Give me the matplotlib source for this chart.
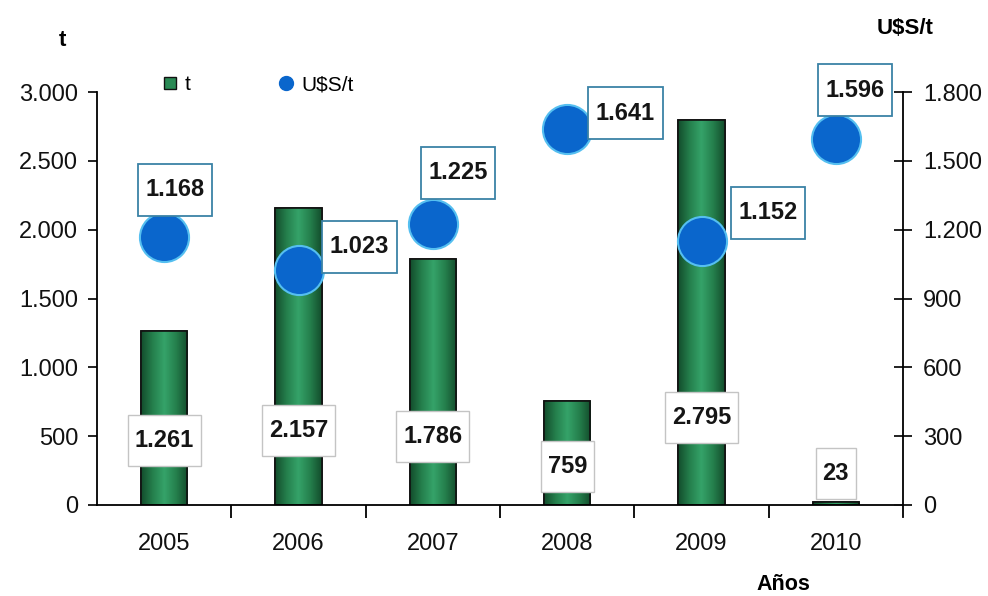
import matplotlib
matplotlib.use("Agg")
import matplotlib.pyplot as plt
import numpy as np
from matplotlib.patches import Rectangle
from matplotlib.path import Path
from matplotlib.colors import LinearSegmentedColormap
from matplotlib.lines import Line2D

plt.rcParams['font.family'] = ['Liberation Sans', 'DejaVu Sans']

years = ["2005", "2006", "2007", "2008", "2009", "2010"]
tonnes = [1261, 2157, 1786, 759, 2795, 23]
price = [1168, 1023, 1225, 1641, 1152, 1596]
tonnes_labels = ["1.261", "2.157", "1.786", "759", "2.795", "23"]
price_labels = ["1.168", "1.023", "1.225", "1.641", "1.152", "1.596"]
left_ticks = [0, 500, 1000, 1500, 2000, 2500, 3000]
left_tick_labels = ["0", "500", "1.000", "1.500", "2.000", "2.500", "3.000"]
right_ticks = [0, 300, 600, 900, 1200, 1500, 1800]
right_tick_labels = ["0", "300", "600", "900", "1.200", "1.500", "1.800"]

# label placement
price_offsets = [(8, 34), (44, 17), (18, 37), (42, 11), (48, 20), (14, 35)]
bar_label_y = [472, 538, 501, 283, 639, 232]


def make_box(padx, total_h):
    def style(x0, y0, width, height, mutation_size):
        cy = y0 + height / 2
        l, r = x0 - padx, x0 + width + padx
        b, t = cy - total_h / 2, cy + total_h / 2
        return Path([(l, b), (r, b), (r, t), (l, t), (l, b)], closed=True)
    return style


fig = plt.figure(figsize=(9.88, 5.96), dpi=100)
ax = fig.add_axes([0.0982, 0.1527, 0.8158, 0.6929])
ax2 = ax.twinx()

x = np.arange(len(years))
width = 0.343
cmap = LinearSegmentedColormap.from_list("g", ["#134d2c", "#25804d", "#35a369", "#25804d", "#134d2c"])
grad = np.linspace(0, 1, 100).reshape(1, -1)
bars = ax.bar(x, tonnes, width=width, color="#2a8a55", edgecolor="#111111", linewidth=1.2, zorder=2)
for b in bars:
    bx, by, bw, bh = b.get_x(), b.get_y(), b.get_width(), b.get_height()
    im = ax.imshow(grad, cmap=cmap, aspect="auto", extent=[bx, bx + bw, by, by + bh], zorder=2.1)
    im.set_clip_path(b)
    ax.add_patch(Rectangle((bx, by), bw, bh, fill=False, edgecolor="#111111", linewidth=1.2, zorder=2.2))

ax.set_xlim(-0.5, 5.5)
ax.set_ylim(0, 3000)
ax2.set_ylim(0, 1800)

ax2.scatter(x, price, s=1250, color="#0a66cc", edgecolors="#55bff0", linewidths=1.5, zorder=5, clip_on=False)

for xi, yi, lab in zip(x, bar_label_y, tonnes_labels):
    ax.text(xi, yi, lab, ha="center", va="center", fontsize=17, fontweight="bold", color="#151515",
            bbox=dict(boxstyle=make_box(7, 51), facecolor="white", edgecolor="#c4c4c4", linewidth=1), zorder=6)

for xi, yi, lab, off in zip(x, price, price_labels, price_offsets):
    ax2.annotate(lab, (xi, yi), xytext=off, textcoords="offset points", ha="center", va="center",
                 fontsize=17, fontweight="bold", color="#151515", annotation_clip=False,
                 bbox=dict(boxstyle=make_box(7.5, 52), facecolor="white", edgecolor="#3a82a6", linewidth=1.3),
                 zorder=7)

for a in (ax, ax2):
    a.spines['top'].set_visible(False)
ax.spines['right'].set_visible(False)
ax2.spines['left'].set_visible(False)
ax2.spines['bottom'].set_visible(False)
for s in ('left', 'bottom'):
    ax.spines[s].set_linewidth(1.3)
ax2.spines['right'].set_linewidth(1.3)
ax2.spines['right'].set_bounds(-52, 1800)

ax.set_yticks(left_ticks)
ax.set_yticklabels(left_tick_labels)
ax.tick_params(axis='y', direction='out', length=6.5, width=1.3, labelsize=17, colors="#111111", pad=7)
ax2.set_yticks(right_ticks)
ax2.set_yticklabels(right_tick_labels)
ax2.tick_params(axis='y', direction='inout', length=13, width=1.3, labelsize=17, colors="#111111", pad=8)

ax.set_xticks(x)
ax.set_xticklabels(years)
ax.set_xticks(x[:-1] + 0.5, minor=True)
ax.tick_params(axis='x', which='major', length=0, labelsize=17, pad=20, colors="#111111")
ax.tick_params(axis='x', which='minor', direction='out', length=9, width=1.3)

ax.patch.set_visible(False)
ax2.set_zorder(ax.get_zorder() + 1)
ax2.patch.set_visible(False)

fig.text(62 / 988, 1 - 40 / 596, "t", ha="center", va="center", fontsize=16, fontweight="bold")
fig.text(905 / 988, 1 - 28 / 596, "U$S/t", ha="center", va="center", fontsize=16, fontweight="bold")
fig.text(783 / 988, 1 - 585 / 596, "Años", ha="center", va="center", fontsize=15.5, fontweight="bold")

h1 = Line2D([], [], marker='s', linestyle='none', markersize=9, markerfacecolor="#2a8a55", markeredgecolor="#111111")
h2 = Line2D([], [], marker='o', linestyle='none', markersize=10, markerfacecolor="#0a66cc", markeredgecolor="#0a66cc")
fig.legend([h1, h2], ["t", "U$S/t"], loc="center left", bbox_to_anchor=(141 / 988, 1 - 85 / 596),
           ncol=2, frameon=False, fontsize=15, handletextpad=0.2, columnspacing=4.1, handlelength=1.0)

fig.savefig("out.png", dpi=100)
